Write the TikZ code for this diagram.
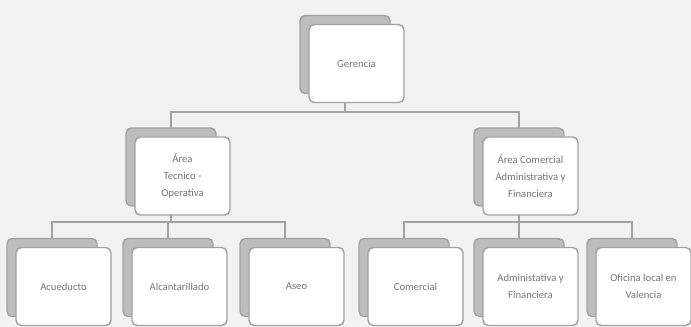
\documentclass[tikz,border=0pt]{standalone}
\usepackage{fontspec}
\setmainfont{Carlito}
\usepackage{tikz}
\definecolor{paper}{HTML}{F2F2F2}
\definecolor{edge}{HTML}{A2A2A2}
\definecolor{backfill}{HTML}{BDBDBD}
\definecolor{ink}{HTML}{767676}
\newcommand{\orgunit}[4]{%
    \node[backbox] (#1-s) at (#2-11.5,#3-9) {};
    \node[frontbox] (#1) at (#2,#3) {#4};}

\begin{document}
\begin{tikzpicture}[x=0.75pt, y=-0.75pt, font=\fontsize{8}{12.5}\selectfont,
    backbox/.style={draw=edge, fill=backfill, line width=1.1pt, rounded corners=4pt,
        minimum width=67.5pt, minimum height=58.5pt, inner sep=0pt, outer sep=0pt},
    frontbox/.style={draw=edge, fill=white, line width=1.1pt, rounded corners=4pt,
        minimum width=71.25pt, minimum height=58.5pt, inner sep=2pt, outer sep=0pt,
        align=center, text=ink},
    link/.style={draw=edge, line width=1.1pt}]
    \fill[paper] (0,0) rectangle (691,327);
    \useasboundingbox (0,0) rectangle (691,327);

    \orgunit{ger}{356.5}{63.5}{Gerencia}
    \orgunit{tec}{182.5}{176}{Área\\Tecnico -\\Operativa}
    \orgunit{com}{530.5}{176}{Área Comercial\\Administrativa y\\Financiera}

    \orgunit{acu}{63.5}{286.5}{Acueducto}
    \orgunit{alc}{179.5}{286.5}{Alcantarillado}
    \orgunit{ase}{296.5}{286.5}{Aseo}
    \orgunit{cmr}{415.5}{286.5}{Comercial}
    \orgunit{adm}{530.5}{286.5}{Administativa y\\Financiera}
    \orgunit{ofi}{643.5}{286.5}{Oficina local en\\Valencia}

    \coordinate (bus1) at (0,112);
    \coordinate (bus2) at (0,222);

    \draw[link] (ger-s.south |- ger.south) -- (ger-s.south |- bus1) -| (tec-s.north);
    \draw[link] (ger-s.south |- bus1) -| (com-s.north);
    \foreach \c in {acu,alc,ase}
        \draw[link] (tec-s.south |- tec.south) -- (tec-s.south |- bus2) -| (\c-s.north);
    \foreach \c in {cmr,adm,ofi}
        \draw[link] (com-s.south |- com.south) -- (com-s.south |- bus2) -| (\c-s.north);
\end{tikzpicture}
\end{document}
